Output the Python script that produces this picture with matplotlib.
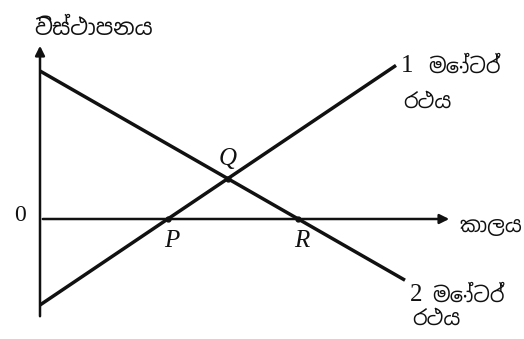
import matplotlib

matplotlib.use("Agg")
import matplotlib.pyplot as plt
from matplotlib import font_manager

# Displacement-time graph of two cars (arbitrary units, origin where the axes cross)
car1_t = [0.0, 8.9]
car1_s = [-2.15, 3.84]
car2_t = [0.0, 9.125]
car2_s = [3.70, -1.53]

point_names = ["P", "Q", "R"]
axis_labels = {"y": "විස්ථාපනය", "x": "කාලය"}
car_numbers = ["1", "2"]
car_words = ["මෝටර්", "රථය"]
origin_label = "0"

T_MAX = 10.3
S_MIN, S_MAX = -2.5, 4.4
INK = "#111111"


def sinhala_families():
    names = sorted({f.name for f in font_manager.fontManager.ttflist if "sinhala" in f.name.lower()})
    return names + ["Noto Sans", "DejaVu Sans"]


def slope_of(ts, ss):
    return (ss[1] - ss[0]) / (ts[1] - ts[0])


def zero_crossing(ts, ss):
    return ts[0] - ss[0] / slope_of(ts, ss)


def intersection(ta, sa, tb, sb):
    ma, mb = slope_of(ta, sa), slope_of(tb, sb)
    ca = sa[0] - ma * ta[0]
    cb = sb[0] - mb * tb[0]
    t = (cb - ca) / (ma - mb)
    return t, ca + ma * t


fams = sinhala_families()

fig = plt.figure(figsize=(5.24, 3.39), dpi=100)
ax = fig.add_axes([0, 0, 1, 1])
ax.set_xlim(-1.0, 12.1)
ax.set_ylim(-3.0, 5.475)
ax.axis("off")

# axes with arrow heads
ax.annotate("", xy=(0, S_MAX), xytext=(0, S_MIN),
            arrowprops=dict(arrowstyle="-|>", lw=1.8, color=INK, mutation_scale=14))
ax.annotate("", xy=(T_MAX, 0), xytext=(0, 0),
            arrowprops=dict(arrowstyle="-|>", lw=1.8, color=INK, mutation_scale=14))

ax.plot(car1_t, car1_s, color=INK, lw=2.5, solid_capstyle="butt")
ax.plot(car2_t, car2_s, color=INK, lw=2.5, solid_capstyle="butt")

tp = zero_crossing(car1_t, car1_s)
tr = zero_crossing(car2_t, car2_s)
tq, sq = intersection(car1_t, car1_s, car2_t, car2_s)
ax.plot([tp, tq, tr], [0, sq, 0], "o", color=INK, ms=3.5)

serif = dict(family="Liberation Serif", style="italic", fontsize=18, color=INK)
ax.text(tp + 0.1, -0.55, point_names[0], ha="center", va="center", **serif)
ax.text(tq, sq + 0.5, point_names[1], ha="center", va="center", **serif)
ax.text(tr + 0.1, -0.55, point_names[2], ha="center", va="center", **serif)

ax.text(-0.5, 0.08, origin_label, family="Liberation Serif", fontsize=17,
        ha="center", va="center", color=INK)

ax.text(-0.15, 4.75, axis_labels["y"], family=fams, fontsize=16, ha="left", va="center", color=INK)
ax.text(T_MAX + 0.2, -0.2, axis_labels["x"], family=fams, fontsize=15, ha="left", va="center", color=INK)

# car labels: serif number, Sinhala words on two lines
for num, (tn, sn), (tw, sw), (tw2, sw2) in [
    (car_numbers[0], (9.175, 3.82), (9.7, 3.8), (9.07, 2.92)),
    (car_numbers[1], (9.4, -1.9), (9.8, -1.92), (9.3, -2.5)),
]:
    ax.text(tn, sn, num, family="Liberation Serif", fontsize=18, ha="center", va="center", color=INK)
    ax.text(tw, sw, car_words[0], family=fams, fontsize=15, ha="left", va="center", color=INK)
    ax.text(tw2, sw2, car_words[1], family=fams, fontsize=15, ha="left", va="center", color=INK)

fig.savefig("out.png", dpi=100)
